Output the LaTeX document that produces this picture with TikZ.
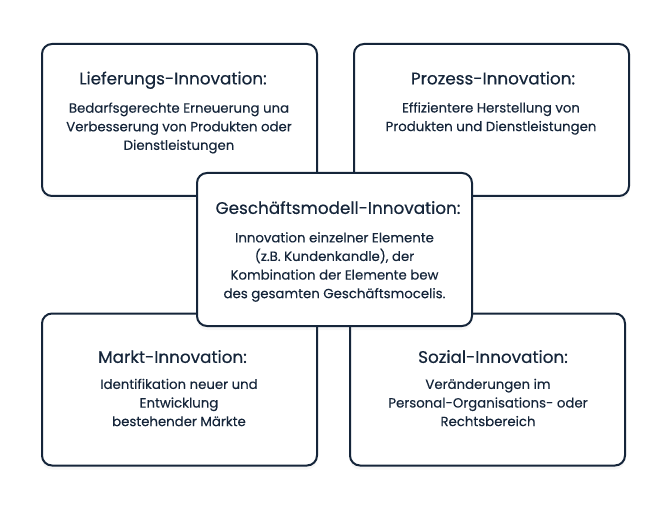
\documentclass[tikz,border=0pt]{standalone}
\usepackage{fontspec}
\setmainfont{Poppins}
\newfontfamily\titlefont{Poppins}[FakeBold=0.5]
\newfontfamily\bodyfont{Poppins}[FakeBold=0.25]
\usetikzlibrary{shadows}
\definecolor{navy}{HTML}{15253A}
\begin{document}
\begin{tikzpicture}[x=1pt,y=-1pt,
  card/.style={draw=navy, line width=2pt, fill=white, rounded corners=10pt,
    minimum width=275pt, minimum height=152pt, inner sep=0pt,
    drop shadow={opacity=0.07, shadow xshift=0pt, shadow yshift=-4pt}},
  ttl/.style={text=navy, font=\titlefont\fontsize{16.8}{19}\selectfont, inner sep=0pt,
    text height=11.8pt, text depth=0pt},
  bdy/.style={text=navy, font=\bodyfont\fontsize{13.3}{18.6}\selectfont, align=center, inner sep=0pt}]
\useasboundingbox[fill=white] (0,0) rectangle (669,513);
\node[card] (tl) at (179.5,120) {};
\node[card] (tr) at (491.5,120) {};
\node[card] (bl) at (179.5,389.5) {};
\node[card] (br) at (487.5,389.5) {};
\node[card, minimum height=153pt] (c) at (334.5,249.5) {};

\node[ttl] (tlt) at (173,78.5) {Lieferungs-Innovation:};
\node[bdy] (tlb) at (179,128) {Bedarfsgerechte Erneuerung una\\Verbesserung von Produkten oder\\Dienstleistungen};

\node[ttl] (trt) at (493,78.5) {Prozess-Innovation:};
\node[bdy] (trb) at (491,118.5) {Effizientere Herstellung von\\Produkten und Dienstleistungen};

\node[ttl] (ct) at (338,208) {Geschäftsmodell-Innovation:};
\node[bdy] (cb) at (334.5,267) {Innovation einzelner Elemente\\(z.B. Kundenkandle), der\\Kombination der Elemente bew\\des gesamten Geschäftsmocelis.};

\node[ttl] (blt) at (172.5,357) {Markt-Innovation:};
\node[bdy] (blb) at (179,402.5) {Identifikation neuer und\\Entwicklung\\bestehender Märkte};

\node[ttl] (brt) at (493,357) {Sozial-Innovation:};
\node[bdy] (brb) at (488,402.5) {Veränderungen im\\Personal-Organisations- oder\\Rechtsbereich};
\end{tikzpicture}
\end{document}
